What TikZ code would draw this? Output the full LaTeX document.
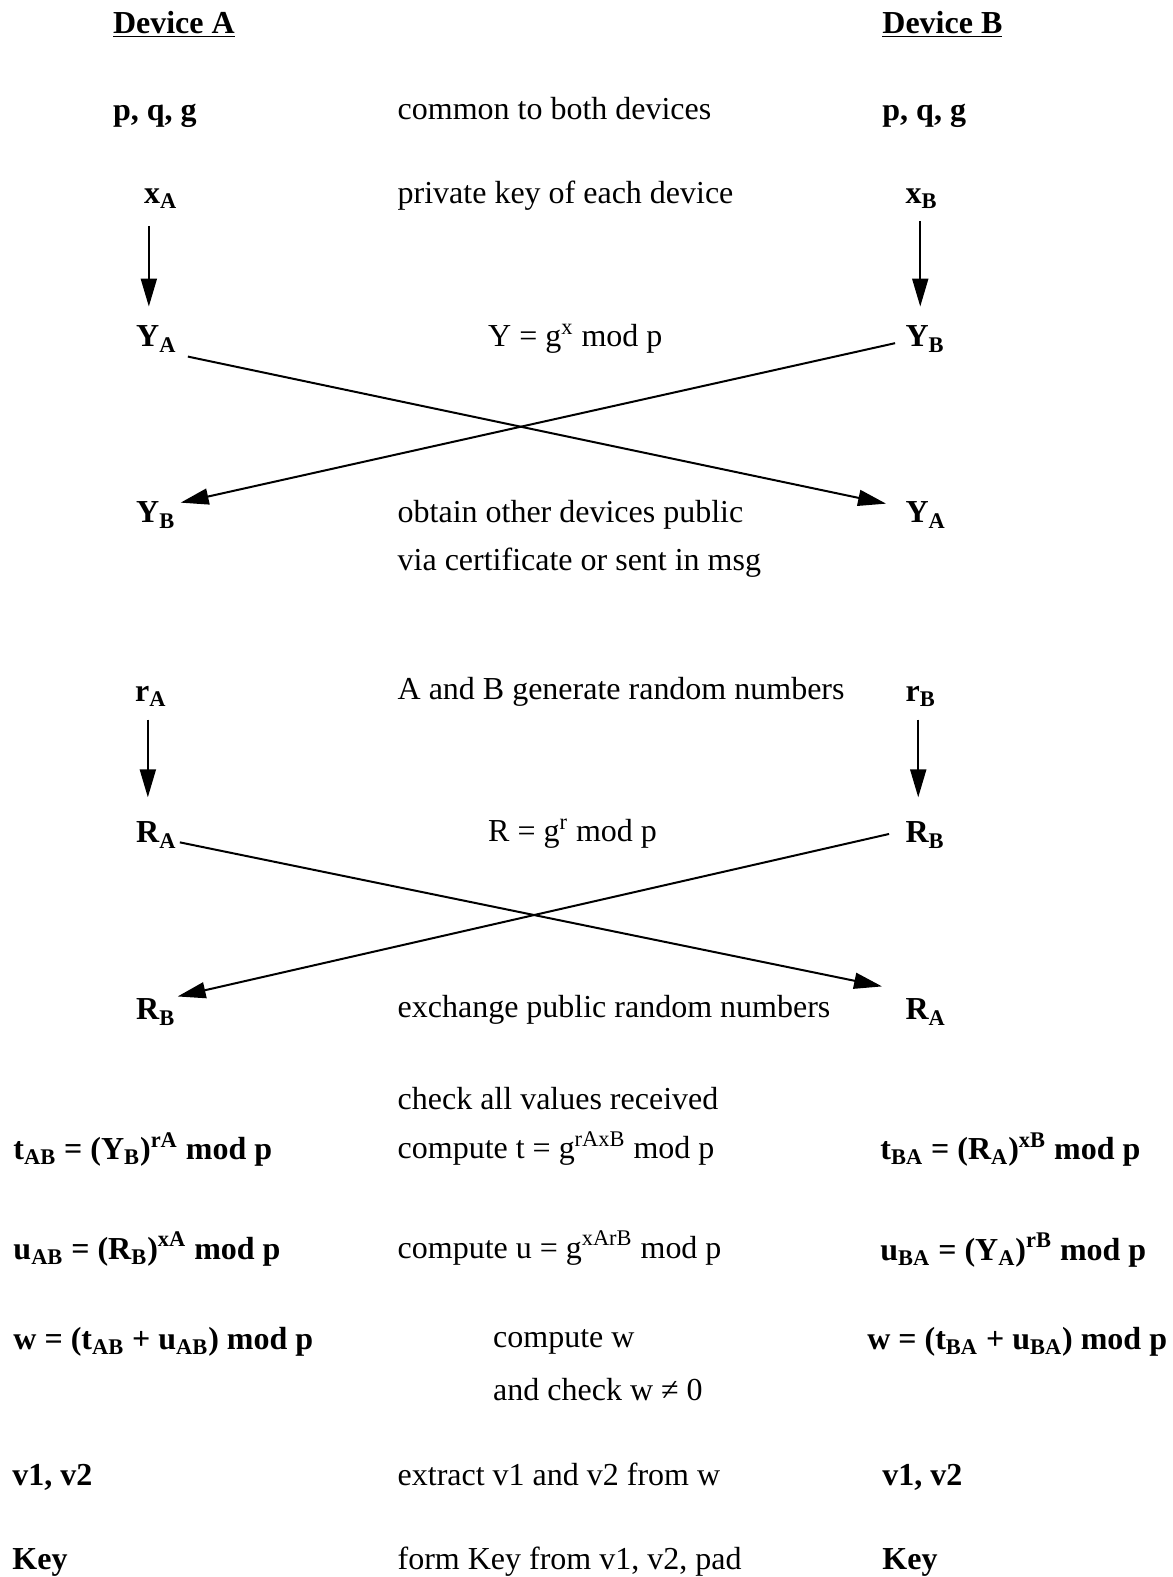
\documentclass[tikz,border=0pt]{standalone}
\usepackage{fontspec}
\setmainfont{Liberation Serif}
\usetikzlibrary{arrows.meta}

\begin{document}
\begin{tikzpicture}[x=0.503pt, y=-0.503pt,
	lab/.style={anchor=base west, inner sep=0pt, font=\fontsize{16}{19}\selectfont\bfseries},
	note/.style={anchor=base west, inner sep=0pt, font=\fontsize{16}{19}\selectfont},
	arr/.style={-{Triangle[length=14pt,width=8pt]}, line width=1pt}]
	\useasboundingbox (0,0) rectangle (1166,1568);
	
	\node[lab] (devA) at (112,33) {\underline{Device A}};
	\node[lab] (devB) at (877,33) {\underline{Device B}};
	
	\node[lab]  (pqgA)   at (112,120) {p, q, g};
	\node[note] (common) at (395,119) {common to both devices};
	\node[lab]  (pqgB)   at (877,120) {p, q, g};
	
	\node[lab]  (xA)      at (143,202) {x\textsubscript{A}};
	\node[note] (privkey) at (395,202) {private key of each device};
	\node[lab]  (xB)      at (900,202) {x\textsubscript{B}};
	
	\node[lab]  (YA)  at (135,345) {Y\textsubscript{A}};
	\node[note] (Yeq) at (485,345) {Y = g\textsuperscript{x} mod p};
	\node[lab]  (YB)  at (900,345) {Y\textsubscript{B}};
	
	\node[lab]  (YBa)    at (135,520) {Y\textsubscript{B}};
	\node[note] (obtain) at (395,520) {obtain other devices public};
	\node[note] (via)    at (395,567) {via certificate or sent in msg};
	\node[lab]  (YAb)    at (900,520) {Y\textsubscript{A}};
	
	\node[lab]  (rA)      at (134,697) {r\textsubscript{A}};
	\node[note] (randgen) at (395,695) {A and B generate random numbers};
	\node[lab]  (rB)      at (900,697) {r\textsubscript{B}};
	
	\node[lab]  (RA)  at (135,838) {R\textsubscript{A}};
	\node[note] (Req) at (485,837) {R = g\textsuperscript{r} mod p};
	\node[lab]  (RB)  at (900,838) {R\textsubscript{B}};
	
	\node[lab]  (RBa)  at (135,1014) {R\textsubscript{B}};
	\node[note] (exch) at (395,1012) {exchange public random numbers};
	\node[lab]  (RAb)  at (900,1014) {R\textsubscript{A}};
	
	\node[note] (check) at (395,1103) {check all values received};
	
	\node[lab]  (tAB)   at (13,1153)  {t\textsubscript{AB} = (Y\textsubscript{B})\textsuperscript{rA} mod p};
	\node[note] (tcomp) at (395,1152) {compute t = g\textsuperscript{rAxB} mod p};
	\node[lab]  (tBA)   at (875,1153) {t\textsubscript{BA} = (R\textsubscript{A})\textsuperscript{xB} mod p};
	
	\node[lab]  (uAB)   at (13,1252)  {u\textsubscript{AB} = (R\textsubscript{B})\textsuperscript{xA} mod p};
	\node[note] (ucomp) at (395,1251) {compute u = g\textsuperscript{xArB} mod p};
	\node[lab]  (uBA)   at (875,1253) {u\textsubscript{BA} = (Y\textsubscript{A})\textsuperscript{rB} mod p};
	
	\node[lab]  (wA)    at (13,1342)  {w = (t\textsubscript{AB} + u\textsubscript{AB}) mod p};
	\node[note] (wcomp) at (490,1340) {compute w};
	\node[note] (wchk)  at (490,1392) {and check w ≠ 0};
	\node[lab]  (wB)    at (862,1342) {w = (t\textsubscript{BA} + u\textsubscript{BA}) mod p};
	
	\node[lab]  (vA)   at (12,1477)  {v1, v2};
	\node[note] (vext) at (395,1477) {extract v1 and v2 from w};
	\node[lab]  (vB)   at (877,1477) {v1, v2};
	
	\node[lab]  (keyA)    at (12,1561)  {Key};
	\node[note] (keyform) at (395,1561) {form Key from v1, v2, pad};
	\node[lab]  (keyB)    at (877,1561) {Key};
	
	% private -> public
	\draw[arr] ([shift={(5,17)}]xA.south west) -- ([shift={(13,-19)}]YA.north west);
	\draw[arr] ([shift={(15,12)}]xB.south west) -- ([shift={(15,-19)}]YB.north west);
	\draw[arr] ([shift={(13,13)}]rA.south west) -- ([shift={(12,-24)}]RA.north west);
	\draw[arr] ([shift={(13,13)}]rB.south west) -- ([shift={(13,-24)}]RB.north west);
	
	% exchange of public values
	\draw[arr] ([shift={(11,4)}]YA.south east) -- ([shift={(-19,2)}]YAb.north west);
	\draw[arr] ([shift={(-10,4)}]YB.west) -- ([shift={(5,1)}]YBa.north east);
	\draw[arr] ([shift={(3,-6)}]RA.south east) -- ([shift={(-23,-12)}]RAb.north west);
	\draw[arr] ([shift={(-16,-1)}]RB.west) -- ([shift={(2,-2)}]RBa.north east);
\end{tikzpicture}
\end{document}
